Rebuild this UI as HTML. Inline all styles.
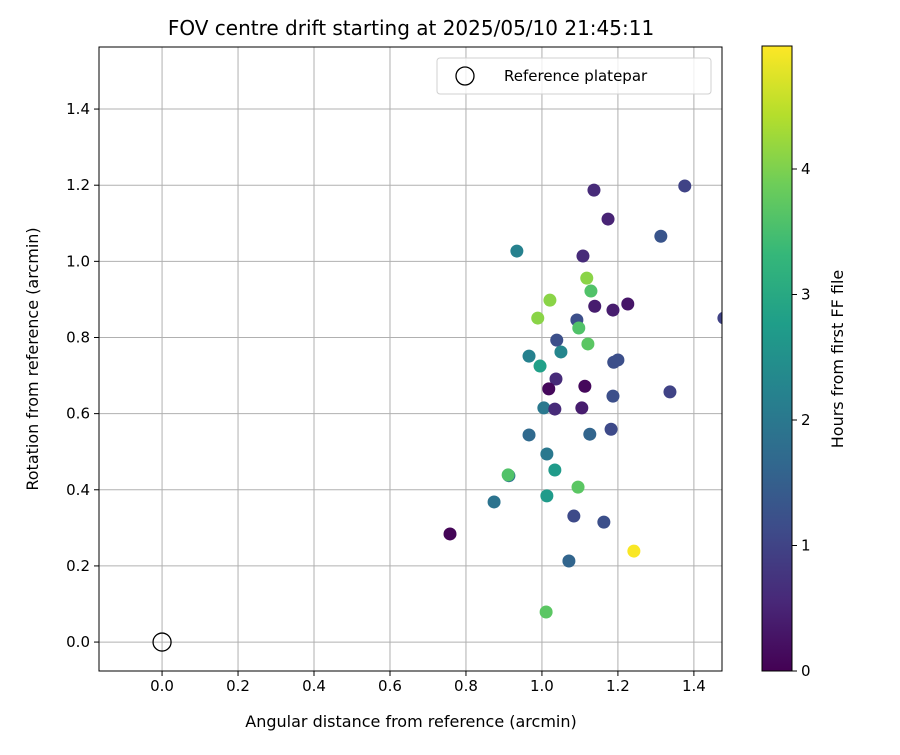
<!DOCTYPE html>
<html><head><meta charset="utf-8"><style>
body{margin:0;background:#fff;font-family:"Liberation Sans","DejaVu Sans",sans-serif}
svg text{font-family:"DejaVu Sans","Liberation Sans",sans-serif}
</style></head><body>
<svg id="chart" width="900" height="750" xmlns="http://www.w3.org/2000/svg"></svg>
<script>
const xVals=[1.137,1.376,1.174,1.313,0.934,1.108,1.118,1.129,1.021,1.139,1.187,1.226,0.989,1.092,1.097,1.479,1.039,1.121,0.966,1.050,0.995,1.189,1.200,1.037,1.018,1.113,1.337,1.187,1.005,1.034,1.105,1.182,0.966,1.126,1.013,1.034,0.913,0.911,1.095,0.874,1.013,1.084,1.163,0.758,1.242,1.071,1.011];
const yVals=[1.187,1.198,1.111,1.066,1.027,1.014,0.956,0.922,0.898,0.882,0.872,0.888,0.851,0.846,0.825,0.851,0.793,0.783,0.751,0.762,0.725,0.735,0.741,0.691,0.665,0.672,0.657,0.646,0.615,0.612,0.615,0.559,0.544,0.546,0.494,0.452,0.437,0.439,0.407,0.368,0.384,0.331,0.315,0.284,0.239,0.213,0.079];
const hours=[0.6,1.0,0.5,1.3,2.2,0.6,4.1,3.6,4.1,0.4,0.4,0.3,4.1,1.2,3.6,1.0,1.2,3.7,2.2,2.3,2.8,1.2,1.2,0.6,0.1,0.1,1.0,1.2,2.0,0.6,0.4,1.1,1.7,1.6,2.0,2.7,1.9,3.6,3.7,1.9,2.7,1.1,1.2,0.05,4.95,1.6,3.7];
const xTicks=[0,0.2,0.4,0.6,0.8,1.0,1.2,1.4];
const yTicks=[0,0.2,0.4,0.6,0.8,1.0,1.2,1.4];
const cTicks=[0,1,2,3,4];
const L=99,R=722,T=47,B=671;
const xMin=-0.166,xMax=1.474,yMin=-0.076,yMax=1.563,cMax=4.98;
const X=v=>L+(v-xMin)/(xMax-xMin)*(R-L);
const Y=v=>B-(v-yMin)/(yMax-yMin)*(B-T);
const vir=[[68,1,84],[72,40,120],[62,74,137],[49,104,142],[38,130,142],[31,158,137],[53,183,121],[109,205,89],[180,222,44],[253,231,37]];
function cmap(t){t=Math.max(0,Math.min(1,t));const p=t*(vir.length-1),i=Math.min(Math.floor(p),vir.length-2),f=p-i;
const c=vir[i].map((a,k)=>Math.round(a+(vir[i+1][k]-a)*f));return `rgb(${c})`;}
const svg=document.getElementById('chart');const NS='http://www.w3.org/2000/svg';
function el(tag,at,txt){const e=document.createElementNS(NS,tag);for(const k in at)e.setAttribute(k,at[k]);if(txt!=null)e.textContent=txt;svg.appendChild(e);return e;}
let e;
e=el('defs',{});e.innerHTML='<clipPath id="pc"><rect x="99" y="47" width="623" height="624"/></clipPath><linearGradient id="cg" x1="0" y1="1" x2="0" y2="0">'+vir.map((c,i)=>`<stop offset="${i/(vir.length-1)*(4.98/cMax)}" stop-color="rgb(${c})"/>`).join('')+'</linearGradient>';
xTicks.forEach(v=>{e=el('line',{x1:X(v),x2:X(v),y1:T,y2:B,stroke:'#b0b0b0','stroke-width':1});

e=el('line',{x1:X(v),x2:X(v),y1:B,y2:B+5,stroke:'#000'});
e=el('text',{x:X(v),y:B+20,'font-size':15,'text-anchor':'middle'},v.toFixed(1));
});
yTicks.forEach(v=>{e=el('line',{x1:L,x2:R,y1:Y(v),y2:Y(v),stroke:'#b0b0b0','stroke-width':1});

e=el('line',{x1:L-5,x2:L,y1:Y(v),y2:Y(v),stroke:'#000'});
e=el('text',{x:L-9,y:Y(v)+5,'font-size':15,'text-anchor':'end'},v.toFixed(1));
});
xVals.forEach((v,i)=>{e=el('circle',{cx:X(v),cy:Y(yVals[i]),r:6.5,fill:cmap(hours[i]/cMax),'clip-path':'url(#pc)'});
});
e=el('circle',{cx:X(0),cy:Y(0),r:9,fill:'none',stroke:'#000','stroke-width':1.3});

e=el('rect',{x:L,y:T,width:R-L,height:B-T,fill:'none',stroke:'#000','stroke-width':1});

e=el('text',{x:411,y:35,'font-size':20,'text-anchor':'middle'},'FOV centre drift starting at 2025/05/10 21:45:11');

e=el('text',{x:411,y:727,'font-size':16,'text-anchor':'middle'},'Angular distance from reference (arcmin)');

e=el('text',{x:38,y:359,'font-size':16,'text-anchor':'middle',transform:'rotate(-90 38 359)'},'Rotation from reference (arcmin)');

e=el('rect',{x:437,y:58,width:274,height:36,rx:3,fill:'#fff','fill-opacity':0.8,stroke:'#d0d0d0'});

e=el('circle',{cx:465,cy:76,r:9,fill:'none',stroke:'#000','stroke-width':1.3});

e=el('text',{x:504,y:81,'font-size':15},'Reference platepar');

const CL=762,CR=792,CT=46,CB=671;
e=el('rect',{x:CL,y:CT,width:CR-CL,height:CB-CT,fill:'url(#cg)',stroke:'#000'});

cTicks.forEach(v=>{const y=CB-v/cMax*(CB-CT);el('line',{x1:CR,x2:CR+5,y1:y,y2:y,stroke:'#000'});
e=el('text',{x:CR+9,y:y+5,'font-size':15},String(v));
});
e=el('text',{x:843,y:359,'font-size':16,'text-anchor':'middle',transform:'rotate(-90 843 359)'},'Hours from first FF file');

</script>
</body></html>
